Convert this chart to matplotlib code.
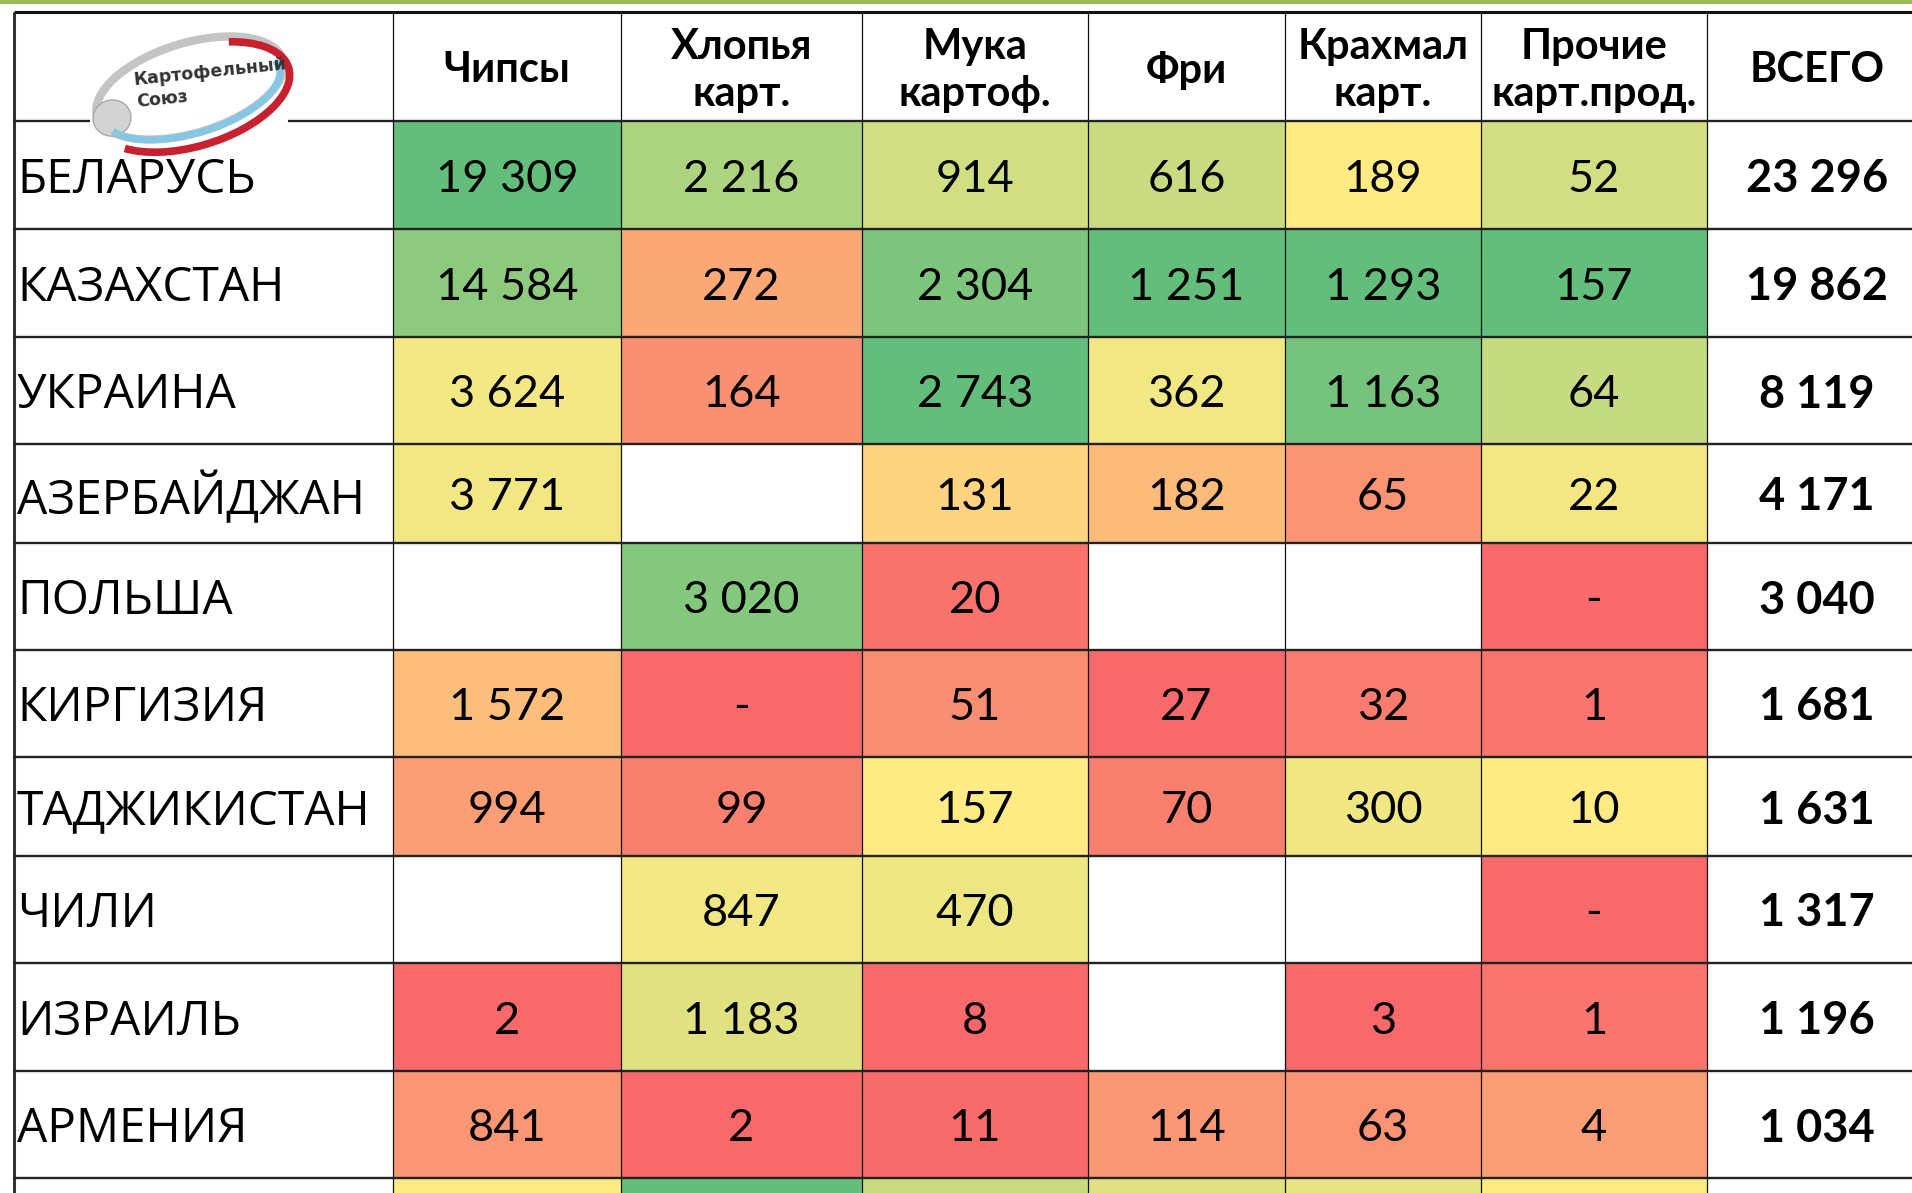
import numpy as np
import matplotlib
matplotlib.use("Agg")
import matplotlib.pyplot as plt
from matplotlib.colors import LinearSegmentedColormap
from matplotlib.patches import Rectangle, Ellipse, Arc

# ---------------- data ----------------
countries = ["БЕЛАРУСЬ", "КАЗАХСТАН", "УКРАИНА", "АЗЕРБАЙДЖАН", "ПОЛЬША",
             "КИРГИЗИЯ", "ТАДЖИКИСТАН", "ЧИЛИ", "ИЗРАИЛЬ", "АРМЕНИЯ"]
headers = ["Чипсы", "Хлопья\nкарт.", "Мука\nкартоф.", "Фри",
           "Крахмал\nкарт.", "Прочие\nкарт.прод.", "ВСЕГО"]
nan = np.nan
# last entry of each list = next row, cut off at the bottom of the picture (estimated)
chips  = [19309, 14584, 3624, 3771, nan, 1572, 994, nan, 2, 841, 2400]
flakes = [2216, 272, 164, nan, 3020, 0, 99, 847, 1183, 2, 3680]
flour  = [914, 2304, 2743, 131, 20, 51, 157, 470, 8, 11, 1060]
fries  = [616, 1251, 362, 182, nan, 27, 70, nan, nan, 114, 466]
starch = [189, 1293, 1163, 65, nan, 32, 300, nan, 3, 63, 366]
other  = [52, 157, 64, 22, 0, 1, 10, 0, 1, 4, 10]
total  = [23296, 19862, 8119, 4171, 3040, 1681, 1631, 1317, 1196, 1034]
logo_lines = ["Картофельный", "Союз"]

# ---------------- layout (pixels) ----------------
W, H = 1912, 1193
col_edges = [14, 393, 621, 862, 1088, 1285, 1481, 1707, 1927]
row_edges = [12, 121, 229, 337, 444, 543, 650, 757, 856, 963, 1071, 1178, 1285]

fig = plt.figure(figsize=(W / 100, H / 100), dpi=100)
ax = fig.add_axes([0, 0, 1, 1])
ax.set_xlim(0, W)
ax.set_ylim(H, 0)
ax.axis("off")

cmap = LinearSegmentedColormap.from_list("excel3", ["#F8696B", "#FFEB84", "#63BE7B"])

cols = [chips, flakes, flour, fries, starch, other]
Z = np.full((len(chips), len(cols)), np.nan)
for j, c in enumerate(cols):
    a = np.asarray(c, dtype=float)
    lo, mid, hi = np.nanmin(a), np.nanpercentile(a, 50), np.nanmax(a)
    z = np.where(a <= mid, 0.5 * (a - lo) / (mid - lo), 0.5 + 0.5 * (a - mid) / (hi - mid))
    Z[:, j] = z
Zm = np.ma.masked_invalid(Z)
ax.pcolormesh(col_edges[1:8], row_edges[1:], Zm, cmap=cmap, vmin=0, vmax=1, zorder=1)

# top green rule
ax.add_patch(Rectangle((0, 0), W, 3.5, color="#9BBB59", lw=0, zorder=5))

# grid lines
ax.vlines(col_edges[1:], row_edges[0], H, color="#111111", lw=0.9, zorder=3)
ax.vlines(col_edges[0], row_edges[0], H, color="#333333", lw=2.2, zorder=3)
ax.hlines(row_edges[1:], col_edges[0], W, color="#222222", lw=1.7, zorder=3)
ax.hlines(row_edges[0], col_edges[0], W, color="#111111", lw=2.2, zorder=3)

num_font = ["Lato", "Open Sans", "DejaVu Sans"]
name_font = ["Open Sans", "DejaVu Sans"]


def fmt(v):
    if np.isnan(v):
        return ""
    if v == 0:
        return "-"
    return f"{int(v):,}".replace(",", " ")


# header
hy = (row_edges[0] + row_edges[1]) / 2
for j, h in enumerate(headers):
    cx = (col_edges[j + 1] + col_edges[j + 2]) / 2
    ax.text(cx, hy + 4, h, ha="center", va="center", fontsize=30, fontweight="bold",
            family=num_font, linespacing=1.28, zorder=6)

# body
for i, name in enumerate(countries):
    cy = (row_edges[i + 1] + row_edges[i + 2]) / 2 + 4
    ax.text(17, cy + 1, name, ha="left", va="center", fontsize=34.5, family=name_font, zorder=6)
    for j, c in enumerate(cols):
        cx = (col_edges[j + 1] + col_edges[j + 2]) / 2
        ax.text(cx, cy, fmt(c[i]), ha="center", va="center", fontsize=32.5,
                family=num_font, zorder=6)
    cx = (col_edges[7] + col_edges[8]) / 2
    ax.text(cx, cy, fmt(total[i]), ha="center", va="center", fontsize=32.5,
            fontweight="bold", family=num_font, zorder=6)

# logo
ax.add_patch(Rectangle((90, 22), 198, 128, color="white", lw=0, zorder=7))
ax.add_patch(Ellipse((190, 88), 194, 90, angle=-17, fill=False, ec="#C4C4C4", lw=6, zorder=8))
ax.add_patch(Ellipse((112, 118), 38, 36, angle=-17, fc="#D3D3D3", ec="#A8A8A8", lw=1, zorder=8))
ax.add_patch(Arc((192, 94), 182, 78, angle=-17, theta1=-5, theta2=172, ec="#86C8E4", lw=5, zorder=9))
ax.add_patch(Arc((193, 97), 200, 98, angle=-17, theta1=-40, theta2=160, ec="#C8202E", lw=5.5, zorder=9))
ax.text(210, 72, logo_lines[0], ha="center", va="center", fontsize=12.5, fontweight="bold",
        color="#333333", rotation=6, family=["DejaVu Sans"], zorder=10)
ax.text(162, 99, logo_lines[1], ha="center", va="center", fontsize=12.5, fontweight="bold",
        color="#333333", rotation=6, family=["DejaVu Sans"], zorder=10)

fig.savefig("out.png", dpi=100)
